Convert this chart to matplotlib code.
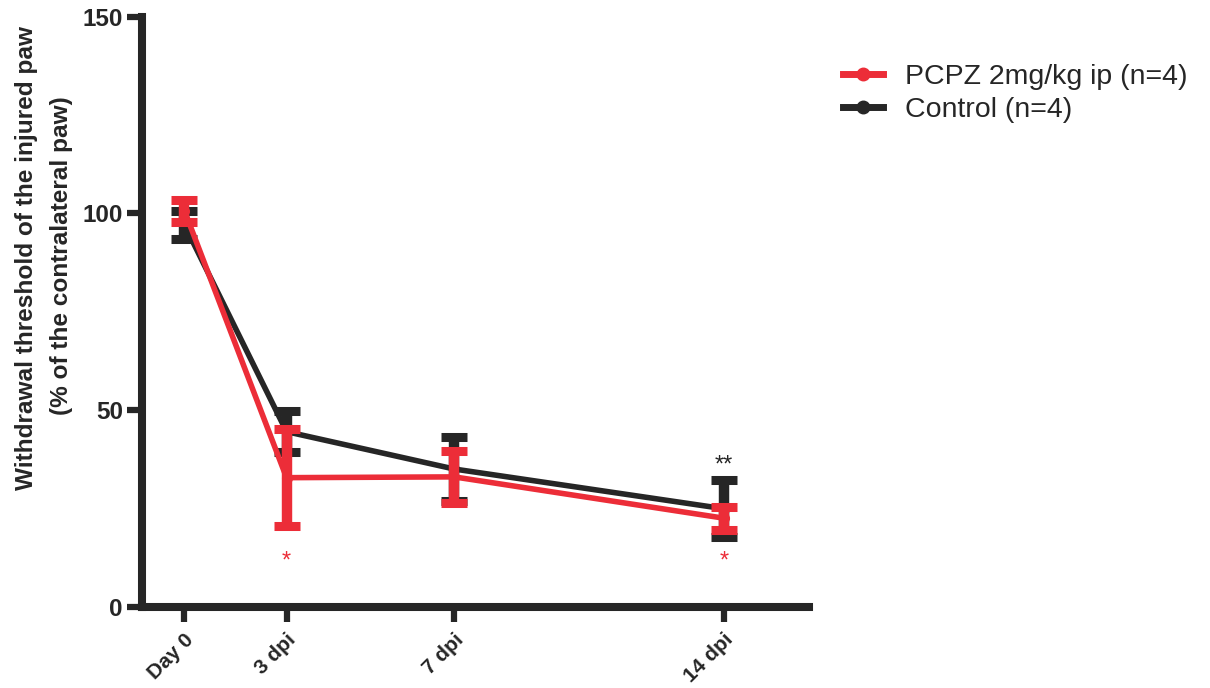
import matplotlib
matplotlib.use("Agg")
import matplotlib.pyplot as plt
from matplotlib.lines import Line2D
import numpy as np

# ---- data ----
categories = ["Day 0", "3 dpi", "7 dpi", "14 dpi"]
x_days = [0, 2.65, 7, 14]
pcpz_mean = [100.7, 32.8, 33.0, 22.5]
pcpz_sem = [2.8, 12.4, 6.6, 2.9]
ctrl_mean = [97.1, 44.5, 35.0, 24.9]
ctrl_sem = [3.6, 5.3, 8.1, 7.3]
series_labels = ["PCPZ 2mg/kg ip (n=4)", "Control (n=4)"]
yticks = [0, 50, 100, 150]

RED = "#EC2D38"
BLACK = "#262626"

plt.rcParams['font.family'] = ['Liberation Sans', 'DejaVu Sans']

fig = plt.figure(figsize=(12.10, 6.88), dpi=100)
ax = fig.add_axes([142/1210, 1-606.7/688, (808.7-142)/1210, (606.7-16.6)/688])

eb_kw = dict(elinewidth=7.5, capsize=9.7, capthick=6.5, marker='o', markersize=7, lw=4)
ax.errorbar(x_days, ctrl_mean, yerr=ctrl_sem, color=BLACK, zorder=2, **eb_kw)
ax.errorbar(x_days, pcpz_mean, yerr=pcpz_sem, color=RED, zorder=3, **eb_kw)

ax.set_xlim(-1.10, 16.2)
ax.set_ylim(0, 150)
ax.set_yticks(yticks)
ax.set_yticklabels([str(v) for v in yticks], fontsize=17.5, fontweight='bold', color=BLACK)
ax.set_xticks(x_days)
ax.set_xticklabels(categories, fontsize=15, fontweight='bold', rotation=45,
                   ha='right', rotation_mode='anchor', color=BLACK)

for s in ['top', 'right']:
    ax.spines[s].set_visible(False)
for s in ['left', 'bottom']:
    ax.spines[s].set_linewidth(5.8)
    ax.spines[s].set_color(BLACK)
    ax.spines[s].set_capstyle('projecting')
ax.tick_params(axis='both', length=10.8, width=4.5, color=BLACK, pad=3)
ax.tick_params(axis='x', pad=6)

# significance marks
ax.text(x_days[3], 36.0, "**", color=BLACK, fontsize=17, ha='center', va='center')
ax.text(x_days[1], 11.5, "*", color=RED, fontsize=17, ha='center', va='center')
ax.text(x_days[3], 11.5, "*", color=RED, fontsize=17, ha='center', va='center')

fig.text(27/1210, 1-258/688, "Withdrawal threshold of the injured paw",
         rotation=90, ha='center', va='center', fontsize=17.6, fontweight='bold',
         color=BLACK)
fig.text(62/1210, 1-256/688, "(% of the contralateral paw)",
         rotation=90, ha='center', va='center', fontsize=17.6, fontweight='bold',
         color=BLACK)

handles = [Line2D([], [], color=RED, lw=5, marker='o', markersize=9),
           Line2D([], [], color=BLACK, lw=5, marker='o', markersize=9)]
leg = fig.legend(handles, series_labels, loc='upper left',
                 bbox_to_anchor=(843/1210, 1-64/688), frameon=False, fontsize=20.5,
                 handlelength=1.4, handletextpad=0.78, borderpad=0, borderaxespad=0,
                 labelspacing=0.26)
for t in leg.get_texts():
    t.set_color(BLACK)

fig.savefig("out.png", dpi=100)
